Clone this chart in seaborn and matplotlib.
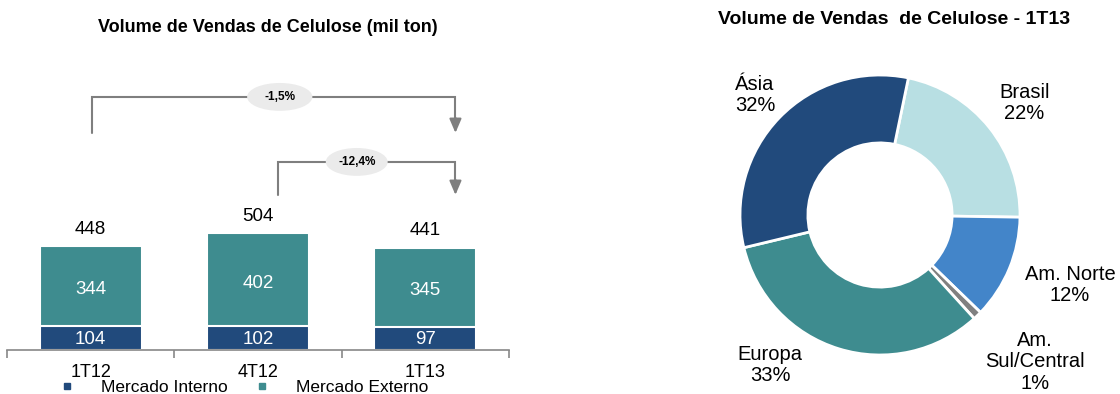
import matplotlib
matplotlib.use("Agg")
import matplotlib.pyplot as plt
import seaborn as sns
import pandas as pd
from matplotlib.patches import Ellipse
from matplotlib.lines import Line2D

sns.set_theme(style="white")
plt.rcParams['font.family'] = ['Liberation Sans', 'DejaVu Sans']
plt.rcParams['text.color'] = 'black'
plt.rcParams['xtick.color'] = 'black'

# ---- data ----
periods = ["1T12", "4T12", "1T13"]
mercado_interno = [104, 102, 97]
mercado_externo = [344, 402, 345]
totals = [448, 504, 441]
growth_labels = ["-1,5%", "-12,4%"]

regions = ["Brasil", "Am. Norte", "Am.\nSul/Central", "Europa", "Ásia"]
shares = [22, 12, 1, 33, 32]

# ---- colours ----
c_int = "#214a7c"
c_ext = "#3e8c8f"
pie_colors = ["#b8dfe3", "#4385c9", "#808080", "#3e8c8f", "#214a7c"]

W, H = 1120, 394
fig = plt.figure(figsize=(W / 100, H / 100), dpi=100)

# ---------------- bar chart ----------------
ax = fig.add_axes([7 / W, 44 / H, 502 / W, 300 / H])
df = pd.DataFrame({"period": periods, "total": totals,
                   "interno": mercado_interno, "externo": mercado_externo})
sns.barplot(data=df, x="period", y="total", color=c_ext, width=0.61,
            edgecolor="white", linewidth=1.5, saturation=1, ax=ax)
sns.barplot(data=df, x="period", y="interno", color=c_int, width=0.61,
            edgecolor="white", linewidth=1.5, saturation=1, ax=ax)
ax.set_xlim(-0.5, 2.5)
ax.set_ylim(0, 1292)
ax.set_xlabel("")
ax.set_ylabel("")
ax.set_yticks([])
for s in ["top", "right", "left"]:
    ax.spines[s].set_visible(False)
ax.spines["bottom"].set_color("#888888")
ax.spines["bottom"].set_linewidth(1.2)
ax.set_xticks([-0.5, 0.5, 1.5, 2.5], minor=False)
ax.set_xticklabels([])
ax.tick_params(axis="x", which="major", direction="out", length=6,
               width=1.2, color="#888888", bottom=True)
ax.set_xticks([0, 1, 2], minor=True)
ax.set_xticklabels(periods, minor=True, fontsize=13)
ax.tick_params(axis="x", which="minor", length=0, pad=10)

for i in range(3):
    ax.annotate(str(totals[i]), (i, totals[i]), xytext=(0, 6),
                textcoords="offset points", ha="center", va="bottom",
                fontsize=13.5, color="black")
    ax.text(i, mercado_interno[i] + mercado_externo[i] / 2 - 15, str(mercado_externo[i]),
            ha="center", va="center", fontsize=13.5, color="white")
    ax.text(i, mercado_interno[i] / 2 - 5, str(mercado_interno[i]),
            ha="center", va="center", fontsize=13.5, color="white")

# brackets
gcol = "#7f7f7f"
def bracket(x0, y0, x1, ytop, y_end, label, lx, ew):
    ax.plot([x0, x0, x1, x1], [y0, ytop, ytop, y_end + 60], color=gcol, lw=1.5,
            solid_joinstyle="miter", clip_on=False)
    ax.annotate("", xy=(x1, y_end), xytext=(x1, y_end + 65),
                arrowprops=dict(arrowstyle="-|>,head_length=0.7,head_width=0.3",
                                color=gcol, lw=1.5, shrinkA=0, shrinkB=0))
    ax.add_patch(Ellipse((lx, ytop), ew, 120, facecolor="#ebebeb",
                         edgecolor="none", zorder=3, clip_on=False))
    ax.text(lx, ytop, label, ha="center", va="center", fontsize=8.5,
            fontweight="bold", color="black", zorder=4)

bracket(0.01, 935, 2.18, 1090, 935, growth_labels[0], 1.13, 0.39)
bracket(1.12, 668, 2.18, 810, 668, growth_labels[1], 1.59, 0.37)

fig.text(268 / W, 1 - 27 / H, "Volume de Vendas de Celulose (mil ton)",
         ha="center", va="center", fontsize=13, fontweight="bold")

handles = [Line2D([], [], marker="s", linestyle="none", color=c_int, markersize=5),
           Line2D([], [], marker="s", linestyle="none", color=c_ext, markersize=5)]
fig.legend(handles, ["Mercado Interno", "Mercado Externo"], ncol=2,
           loc="center", bbox_to_anchor=(244 / W, 7 / H), frameon=False,
           fontsize=12.5, handlelength=0.8, handletextpad=1.55,
           columnspacing=1.6, borderpad=0)

# ---------------- donut ----------------
ax2 = fig.add_axes([680 / W, (H - 415) / H, 400 / W, 400 / H])
ax2.pie(shares, colors=pie_colors, startangle=78.3, counterclock=False,
        radius=1.0, wedgeprops=dict(width=0.485, edgecolor="white", linewidth=2))
ax2.set_xlim(-1.4286, 1.4286)
ax2.set_ylim(-1.4286, 1.4286)
ax2.set_axis_off()

label_pos = [(1.03, 0.80), (1.357, -0.50), (1.107, -1.05), (-0.786, -1.07), (-0.893, 0.857)]
for name, sh, (lx, ly) in zip(regions, shares, label_pos):
    ax2.text(lx, ly, f"{name}\n{sh}%", ha="center", va="center", fontsize=14.5,
             linespacing=1.15, clip_on=False)

fig.text(894 / W, 1 - 20 / H, "Volume de Vendas  de Celulose - 1T13",
         ha="center", va="center", fontsize=14, fontweight="bold")

fig.savefig("out.png", dpi=100)
